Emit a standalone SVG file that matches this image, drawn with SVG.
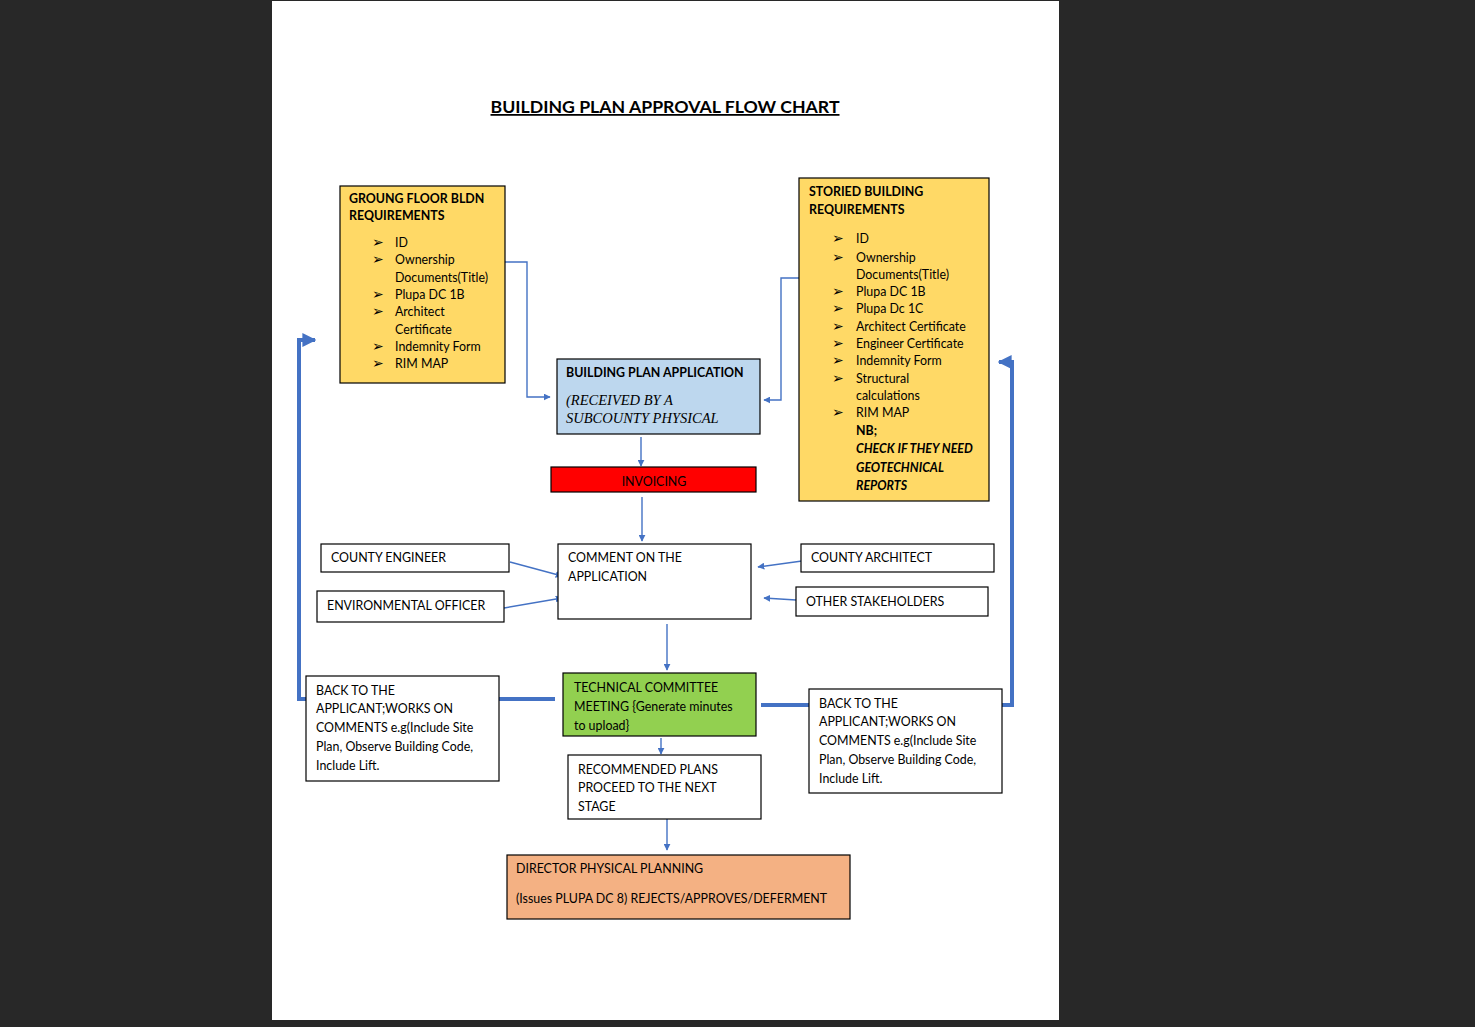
<svg xmlns="http://www.w3.org/2000/svg" width="1475" height="1027" viewBox="0 0 1475 1027">
<defs>
<style>
text{font-family:Lato,"Open Sans","Liberation Sans",sans-serif;font-size:12.4px;fill:#000}
.b{font-weight:bold}
.bi{font-weight:bold;font-style:italic}
.ser{font-family:"Liberation Serif",serif;font-style:italic;font-size:14.5px}
.bul{font-family:"DejaVu Sans",sans-serif;font-size:14px}
.box{stroke:#000;stroke-width:1.2}
.c{fill:none;stroke:#4472C4;stroke-width:1.4}
.t{fill:none;stroke:#4472C4;stroke-width:4}
</style>
<marker id="a" viewBox="0 0 10 10" refX="9" refY="5" markerWidth="7" markerHeight="7" markerUnits="userSpaceOnUse" orient="auto"><path d="M0,0 L10,5 L0,10 z" fill="#4472C4"/></marker>
<marker id="A" viewBox="0 0 10 10" refX="9" refY="5" markerWidth="3.5" markerHeight="3.5" orient="auto"><path d="M0,0 L10,5 L0,10 z" fill="#4472C4"/></marker>
</defs>
<rect x="0" y="0" width="1475" height="1027" fill="#282828"/>
<rect x="272" y="1" width="787" height="1019" fill="#fff"/>
<g id="title">
<text x="665" y="113" text-anchor="middle" class="b" style="font-size:17.7px" text-decoration="underline">BUILDING PLAN APPROVAL FLOW CHART</text>
</g>
<g id="connectors">
<path class="c" d="M505,262 H527 V397 H550" marker-end="url(#a)"/>
<path class="c" d="M799,278 H781 V400 H764" marker-end="url(#a)"/>
<path class="c" d="M641,437 V466" marker-end="url(#a)"/>
<path class="c" d="M642,497 V541" marker-end="url(#a)"/>
<path class="c" d="M510,562 L562,576" marker-end="url(#a)"/>
<path class="c" d="M504,608 L562,598" marker-end="url(#a)"/>
<path class="c" d="M802,561 L758,567" marker-end="url(#a)"/>
<path class="c" d="M796,600 L764,598" marker-end="url(#a)"/>
<path class="c" d="M667,624 V670" marker-end="url(#a)"/>
<path class="c" d="M661,738 V754" marker-end="url(#a)"/>
<path class="c" d="M667,804 V850" marker-end="url(#a)"/>
<path class="t" d="M555,699 H499"/>
<path class="t" d="M306,699 H299 V340 H315" marker-end="url(#A)"/>
<path class="t" d="M761,705 H809"/>
<path class="t" d="M1002,705 H1012 V362 H999" marker-end="url(#A)"/>
</g>
<g id="ground-floor">
<rect class="box" x="340" y="186" width="165" height="197" fill="#FFD966"/>
<text x="349" y="203" class="b">GROUNG FLOOR BLDN</text>
<text x="349" y="220" class="b">REQUIREMENTS</text>
<text x="372" y="247" class="bul">➢</text><text x="395" y="247">ID</text>
<text x="372" y="264" class="bul">➢</text><text x="395" y="264">Ownership</text>
<text x="395" y="282">Documents(Title)</text>
<text x="372" y="299" class="bul">➢</text><text x="395" y="299">Plupa DC 1B</text>
<text x="372" y="316" class="bul">➢</text><text x="395" y="316">Architect</text>
<text x="395" y="334">Certificate</text>
<text x="372" y="351" class="bul">➢</text><text x="395" y="351">Indemnity Form</text>
<text x="372" y="368" class="bul">➢</text><text x="395" y="368">RIM MAP</text>
</g>
<g id="storied">
<rect class="box" x="799" y="178" width="190" height="323" fill="#FFD966"/>
<text x="809" y="196" class="b">STORIED BUILDING</text>
<text x="809" y="214" class="b">REQUIREMENTS</text>
<text x="832" y="243" class="bul">➢</text><text x="856" y="243">ID</text>
<text x="832" y="262" class="bul">➢</text><text x="856" y="262">Ownership</text>
<text x="856" y="279">Documents(Title)</text>
<text x="832" y="296" class="bul">➢</text><text x="856" y="296">Plupa DC 1B</text>
<text x="832" y="313" class="bul">➢</text><text x="856" y="313">Plupa Dc 1C</text>
<text x="832" y="331" class="bul">➢</text><text x="856" y="331">Architect Certificate</text>
<text x="832" y="348" class="bul">➢</text><text x="856" y="348">Engineer Certificate</text>
<text x="832" y="365" class="bul">➢</text><text x="856" y="365">Indemnity Form</text>
<text x="832" y="383" class="bul">➢</text><text x="856" y="383">Structural</text>
<text x="856" y="400">calculations</text>
<text x="832" y="417" class="bul">➢</text><text x="856" y="417">RIM MAP</text>
<text x="856" y="435" class="b">NB;</text>
<text x="856" y="453" class="bi">CHECK IF THEY NEED</text>
<text x="856" y="472" class="bi">GEOTECHNICAL</text>
<text x="856" y="490" class="bi">REPORTS</text>
</g>
<g id="application">
<rect class="box" x="557" y="359" width="203" height="75" fill="#BDD7EE"/>
<text x="566" y="377" class="b">BUILDING PLAN APPLICATION</text>
<text x="566" y="405" class="ser">(RECEIVED BY A</text>
<text x="566" y="423" class="ser">SUBCOUNTY PHYSICAL</text>
</g>
<g id="invoicing">
<rect class="box" x="551" y="467" width="205" height="25" fill="#FF0000"/>
<text x="654" y="486" text-anchor="middle">INVOICING</text>
</g>
<g id="comment">
<rect class="box" x="558" y="544" width="193" height="75" fill="#fff"/>
<text x="568" y="562">COMMENT ON THE</text>
<text x="568" y="581">APPLICATION</text>
</g>
<g id="county-engineer">
<rect class="box" x="321" y="544" width="188" height="28" fill="#fff"/>
<text x="331" y="562">COUNTY ENGINEER</text>
</g>
<g id="environmental-officer">
<rect class="box" x="317" y="591" width="187" height="31" fill="#fff"/>
<text x="327" y="610">ENVIRONMENTAL OFFICER</text>
</g>
<g id="county-architect">
<rect class="box" x="801" y="544" width="193" height="28" fill="#fff"/>
<text x="811" y="562">COUNTY ARCHITECT</text>
</g>
<g id="other-stakeholders">
<rect class="box" x="796" y="587" width="192" height="29" fill="#fff"/>
<text x="806" y="606">OTHER STAKEHOLDERS</text>
</g>
<g id="technical-committee">
<rect class="box" x="563" y="673" width="193" height="63" fill="#92D050"/>
<text x="574" y="692">TECHNICAL COMMITTEE</text>
<text x="574" y="711">MEETING {Generate minutes</text>
<text x="574" y="730">to upload}</text>
</g>
<g id="back-left">
<rect class="box" x="306" y="676" width="193" height="105" fill="#fff"/>
<text x="316" y="695">BACK TO THE</text>
<text x="316" y="713">APPLICANT;WORKS ON</text>
<text x="316" y="732">COMMENTS e.g(Include Site</text>
<text x="316" y="751">Plan, Observe Building Code,</text>
<text x="316" y="770">Include Lift.</text>
</g>
<g id="back-right">
<rect class="box" x="809" y="689" width="193" height="104" fill="#fff"/>
<text x="819" y="708">BACK TO THE</text>
<text x="819" y="726">APPLICANT;WORKS ON</text>
<text x="819" y="745">COMMENTS e.g(Include Site</text>
<text x="819" y="764">Plan, Observe Building Code,</text>
<text x="819" y="783">Include Lift.</text>
</g>
<g id="recommended">
<rect class="box" x="568" y="755" width="193" height="64" fill="#fff"/>
<text x="578" y="774">RECOMMENDED PLANS</text>
<text x="578" y="792">PROCEED TO THE NEXT</text>
<text x="578" y="811">STAGE</text>
</g>
<g id="director">
<rect class="box" x="507" y="855" width="343" height="64" fill="#F4B183"/>
<text x="516" y="873">DIRECTOR PHYSICAL PLANNING</text>
<text x="516" y="903">(Issues PLUPA DC 8) REJECTS/APPROVES/DEFERMENT</text>
</g>
</svg>
